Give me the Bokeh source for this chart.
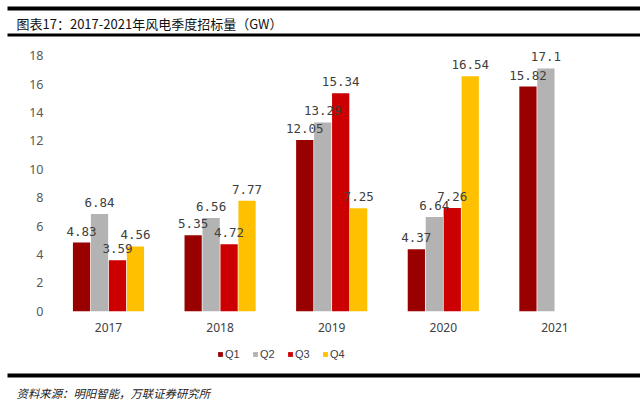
from bokeh.plotting import figure
from bokeh.models import (ColumnDataSource, Range1d, FixedTicker, LinearAxis,
                          Legend, LegendItem, Label, BoxAnnotation)
from bokeh.transform import dodge
from bokeh.core.properties import value
from bokeh.embed import file_html
from bokeh.resources import INLINE

years = ["2017", "2018", "2019", "2020", "2021"]
q1 = [4.83, 5.35, 12.05, 4.37, 15.82]
q2 = [6.84, 6.56, 13.29, 6.64, 17.1]
q3 = [3.59, 4.72, 15.34, 7.26, None]
q4 = [4.56, 7.77, 7.25, 16.54, None]
series_names = ["Q1", "Q2", "Q3", "Q4"]
colors = ["#990000", "#B3B3B3", "#CC0000", "#FFC000"]
y_ticks = [0, 2, 4, 6, 8, 10, 12, 14, 16, 18]

title_text = "图表17：2017-2021年风电季度招标量（GW）"
source_text = "资料来源：明阳智能，万联证券研究所"

W, H = 640, 406
# pixel geometry of the plot area (layout only)
cat_px = 111.6      # px per category
x0_px = 108.0       # centre of first category
y0_px = 310.7       # baseline (value 0)
unit_px = 14.2      # px per value unit

x_range = Range1d(-x0_px / cat_px, (W - x0_px) / cat_px)
y_range = Range1d(-(H - y0_px) / unit_px, y0_px / unit_px)

p = figure(width=W, height=H, x_range=x_range, y_range=y_range,
           output_backend="svg", toolbar_location=None, min_border=0,
           x_axis_type=None, y_axis_type=None)
p.outline_line_color = None
p.background_fill_color = "white"
p.border_fill_color = "white"
p.grid.grid_line_color = None

xidx = list(range(len(years)))
bw = 0.161
offsets = [-1.5 * bw, -0.5 * bw, 0.5 * bw, 1.5 * bw]
renderers = []
label_sources = []
for name, vals, col, off in zip(series_names, [q1, q2, q3, q4], colors, offsets):
    xs = [i for i, v in zip(xidx, vals) if v is not None]
    vs = [v for v in vals if v is not None]
    labels = [("%g" % v) for v in vs]
    src = ColumnDataSource(dict(x=xs, top=vs, lab=labels))
    r = p.vbar(x=dodge("x", off), top="top", bottom=0, width=bw * 0.96,
               source=src, fill_color=col, line_color=None)
    renderers.append(r)
    label_sources.append((src, off))

for src, off in label_sources:
    p.text(x=dodge("x", off), y="top", text="lab", source=src,
           text_align="center", text_baseline="bottom", y_offset=-7,
           text_font=value("DejaVu Sans Mono"), text_font_size="12.5px",
           text_color="#404040")

# axes drawn inside the frame at fixed locations
yaxis = LinearAxis(ticker=FixedTicker(ticks=y_ticks), fixed_location=-0.5 - 0.002)
yaxis.axis_line_color = None
yaxis.major_tick_line_color = None
yaxis.minor_tick_line_color = None
yaxis.major_label_standoff = 3
yaxis.major_label_text_font = "Noto Sans"
yaxis.major_label_text_font_size = "12.5px"
yaxis.major_label_text_color = "#595959"
p.add_layout(yaxis, "left")

xaxis = LinearAxis(ticker=FixedTicker(ticks=xidx), fixed_location=0,
                   major_label_overrides={i: y for i, y in zip(xidx, years)})
xaxis.axis_line_color = None
xaxis.major_tick_line_color = None
xaxis.minor_tick_line_color = None
xaxis.major_label_standoff = 6
xaxis.major_label_text_font = "Noto Sans"
xaxis.major_label_text_font_size = "12px"
xaxis.major_label_text_color = "#404040"
p.add_layout(xaxis, "below")

legend = Legend(items=[LegendItem(label=n, renderers=[r]) for n, r in zip(series_names, renderers)],
                orientation="horizontal", location=(217, 46),
                glyph_width=6, glyph_height=6, label_standoff=2, spacing=7,
                padding=0, margin=0, border_line_color=None,
                background_fill_alpha=0, label_text_font="Liberation Sans",
                label_text_font_size="11px", label_text_color="#404040",
                label_height=12)
p.add_layout(legend, "center")

# decorative rules
for top, bottom in [(6, 10), (33, 36), (373, 377)]:
    p.add_layout(BoxAnnotation(left=7, right=W, top=top, bottom=bottom,
                               left_units="canvas", right_units="canvas",
                               top_units="canvas", bottom_units="canvas",
                               fill_color="black", fill_alpha=1, line_color=None))

p.add_layout(Label(x=16, y=23, x_units="canvas", y_units="canvas", text=title_text,
                   text_font="Noto Sans CJK SC", text_font_size="13px",
                   text_baseline="middle", text_color="#111111"))
p.add_layout(Label(x=16, y=392, x_units="canvas", y_units="canvas", text=source_text,
                   text_font="Noto Sans CJK SC", text_font_size="11.4px",
                   text_font_style="italic", text_baseline="middle",
                   text_color="#222222"))

open("out.html", "w").write(file_html(p, INLINE))
